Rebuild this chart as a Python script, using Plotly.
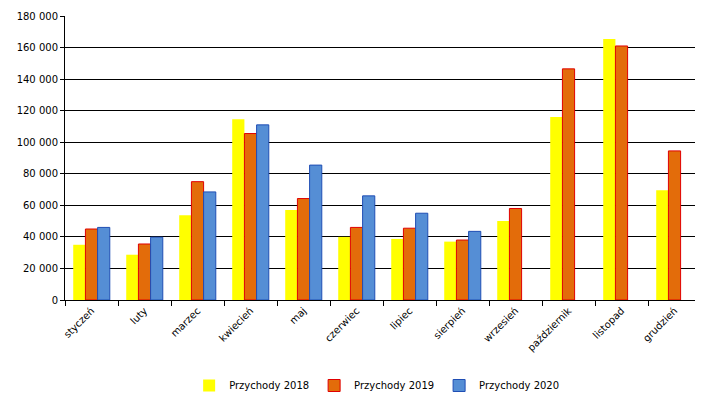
import plotly.graph_objects as go

months = ["styczeń","luty","marzec","kwiecień","maj","czerwiec","lipiec","sierpień","wrzesień","październik","listopad","grudzień"]
p2018 = [35000,28700,53700,114500,57000,40000,38700,37000,50000,116000,165500,69500]
p2019 = [45000,35500,75000,105500,64300,46000,45500,38000,58000,146500,161000,94500]
p2020 = [46000,39800,68500,111000,85500,66000,55000,43500,None,None,None,None]

fig = go.Figure()
fig.add_bar(x=months, y=p2018, name="Przychody 2018", marker=dict(color="#FFFF00", line=dict(width=0)))
fig.add_bar(x=months, y=p2019, name="Przychody 2019", marker=dict(color="#E36C0A", line=dict(color="#E00000", width=1)))
fig.add_bar(x=months, y=p2020, name="Przychody 2020", marker=dict(color="#558ED5", line=dict(color="#1F4EB4", width=1)))

fig.update_layout(
    width=703, height=400, plot_bgcolor="white", paper_bgcolor="white",
    margin=dict(l=57, r=10, t=8, b=103),
    font=dict(family="DejaVu Sans", size=10, color="black"),
    bargap=0.31, bargroupgap=0,
    legend=dict(orientation="h", x=0.49, xanchor="center", y=-0.25, yanchor="top",
                font=dict(size=10), itemwidth=30, tracegroupgap=0),
    showlegend=True,
)
fig.update_xaxes(tickangle=-45, showline=True, linecolor="black", ticks="outside", tickson="boundaries",
                 ticklen=5, tickcolor="black", automargin=False)
fig.update_yaxes(range=[0,180000], dtick=20000, tickformat=",d", showline=True, linecolor="black",
                 gridcolor="black", gridwidth=1, ticks="outside", ticklen=4, tickcolor="black",
                 zeroline=False, automargin=False)
fig.update_layout(separators=", ")
fig.write_html("out.html")
